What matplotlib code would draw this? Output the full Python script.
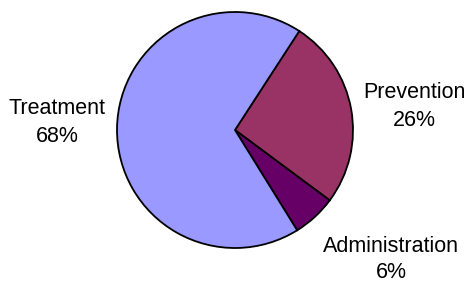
import matplotlib
matplotlib.use("Agg")
from matplotlib import pyplot as plt

plt.rcParams["font.family"] = ["Liberation Sans", "DejaVu Sans"]

labels = ['Prevention', 'Administration', 'Treatment']
shares = [26, 6, 68]
colors = ['#993366', '#660066', '#9999FF']

# label positions in pixels (x, y from top), gap between name and percent
label_pos = [(414, 93, 28), (391, 247, 26), (57, 108, 28)]

fig = plt.figure(figsize=(4.69, 2.84), dpi=100)
ax = fig.add_axes([0, 0, 1, 1])

ax.pie(shares, colors=colors, startangle=57, counterclock=False,
       center=(235, 284 - 130), radius=118,
       wedgeprops={'edgecolor': 'black', 'linewidth': 1.3})
ax.set_xlim(0, 469)
ax.set_ylim(0, 284)
ax.set_aspect('equal')
ax.axis('off')

for lab, val, (x, y, gap) in zip(labels, shares, label_pos):
    ax.text(x, 284 - y, lab, ha='center', va='center', fontsize=15.5)
    ax.text(x, 284 - y - gap, '%d%%' % val, ha='center', va='center', fontsize=15.5)

plt.savefig('out.png', dpi=100)
